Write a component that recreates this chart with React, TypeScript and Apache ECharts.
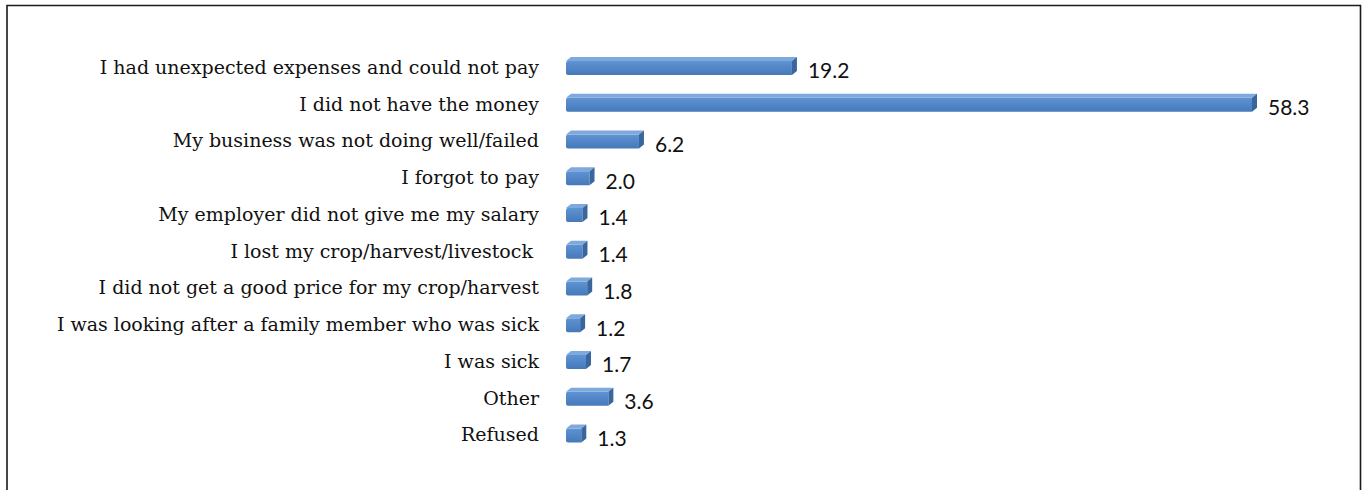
import React, { useEffect, useRef } from "react";
import * as echarts from "echarts";

const categories = [
  "I had unexpected expenses and could not pay",
  "I did not have the money",
  "My business was not doing well/failed",
  "I forgot to pay",
  "My employer did not give me my salary",
  "I lost my crop/harvest/livestock ",
  "I did not get a good price for my crop/harvest",
  "I was looking after a family member who was sick",
  "I was sick",
  "Other",
  "Refused",
];
const values = [19.2, 58.3, 6.2, 2.0, 1.4, 1.4, 1.8, 1.2, 1.7, 3.6, 1.3];

export default function App() {
  const ref = useRef<HTMLDivElement>(null);
  useEffect(() => {
    if (!ref.current) return;
    const chart = echarts.init(ref.current, null, { renderer: "svg" });
    const frontFill = new echarts.graphic.LinearGradient(0, 0, 0, 1, [
      { offset: 0, color: "#5e93d4" },
      { offset: 1, color: "#4679b9" },
    ]);
    chart.setOption({
      animation: false,
      backgroundColor: "#ffffff",
      graphic: [
        {
          type: "rect",
          shape: { x: 7, y: 5.5, width: 1353.5, height: 520 },
          style: { fill: "none", stroke: "#1a1a1a", lineWidth: 1.6 },
          silent: true,
        },
      ],
      grid: { left: 566, top: 48.6, height: 404.25, width: 706 },
      xAxis: {
        type: "value",
        min: 0,
        max: 60,
        show: false,
      },
      yAxis: {
        type: "category",
        data: categories,
        inverse: true,
        axisLine: { show: false },
        axisTick: { show: false },
        splitLine: { show: false },
        axisLabel: {
          margin: 27,
          fontFamily: "DejaVu Serif",
          fontSize: 19,
          color: "#111",
          padding: [4, 0, 0, 0],
        },
      },
      series: [
        {
          type: "custom",
          encode: { x: 0, y: 1 },
          data: values.map((v, i) => [v, i]),
          renderItem: (params: any, api: any) => {
            const v = api.value(0);
            const idx = api.value(1);
            const start = api.coord([0, idx]);
            const end = api.coord([v, idx]);
            const band = api.size([0, 1])[1];
            const h = band * 0.38;
            const d = 5;
            const dy = 4;
            const x0 = start[0];
            const x1 = end[0];
            const yc = start[1] + 1;
            const yt = yc - h / 2;
            const yb = yc + h / 2;
            return {
              type: "group",
              children: [
                {
                  type: "rect",
                  shape: { x: x0, y: yt, width: x1 - x0, height: h, r: [2, 0, 0, 2] },
                  style: { fill: frontFill },
                },
                {
                  type: "polygon",
                  shape: { points: [[x0, yt], [x0 + d, yt - dy], [x1 + d, yt - dy], [x1, yt]] },
                  style: { fill: "#7fa9dc" },
                },
                {
                  type: "polygon",
                  shape: { points: [[x1, yt], [x1 + d, yt - dy], [x1 + d, yb - dy], [x1, yb]] },
                  style: { fill: "#3a669e" },
                },
                {
                  type: "text",
                  style: {
                    text: v.toFixed(1),
                    x: x1 + d + 11,
                    y: yc + 2,
                    verticalAlign: "middle",
                    align: "left",
                    fontFamily: "Lato",
                    fontSize: 21,
                    fill: "#111",
                  },
                },
              ],
            };
          },
        },
      ],
    });
    return () => chart.dispose();
  }, []);
  return (
    <div
      ref={ref}
      style={{ position: "fixed", left: 0, top: 0, width: 1365, height: 490, background: "#fff" }}
    />
  );
}
